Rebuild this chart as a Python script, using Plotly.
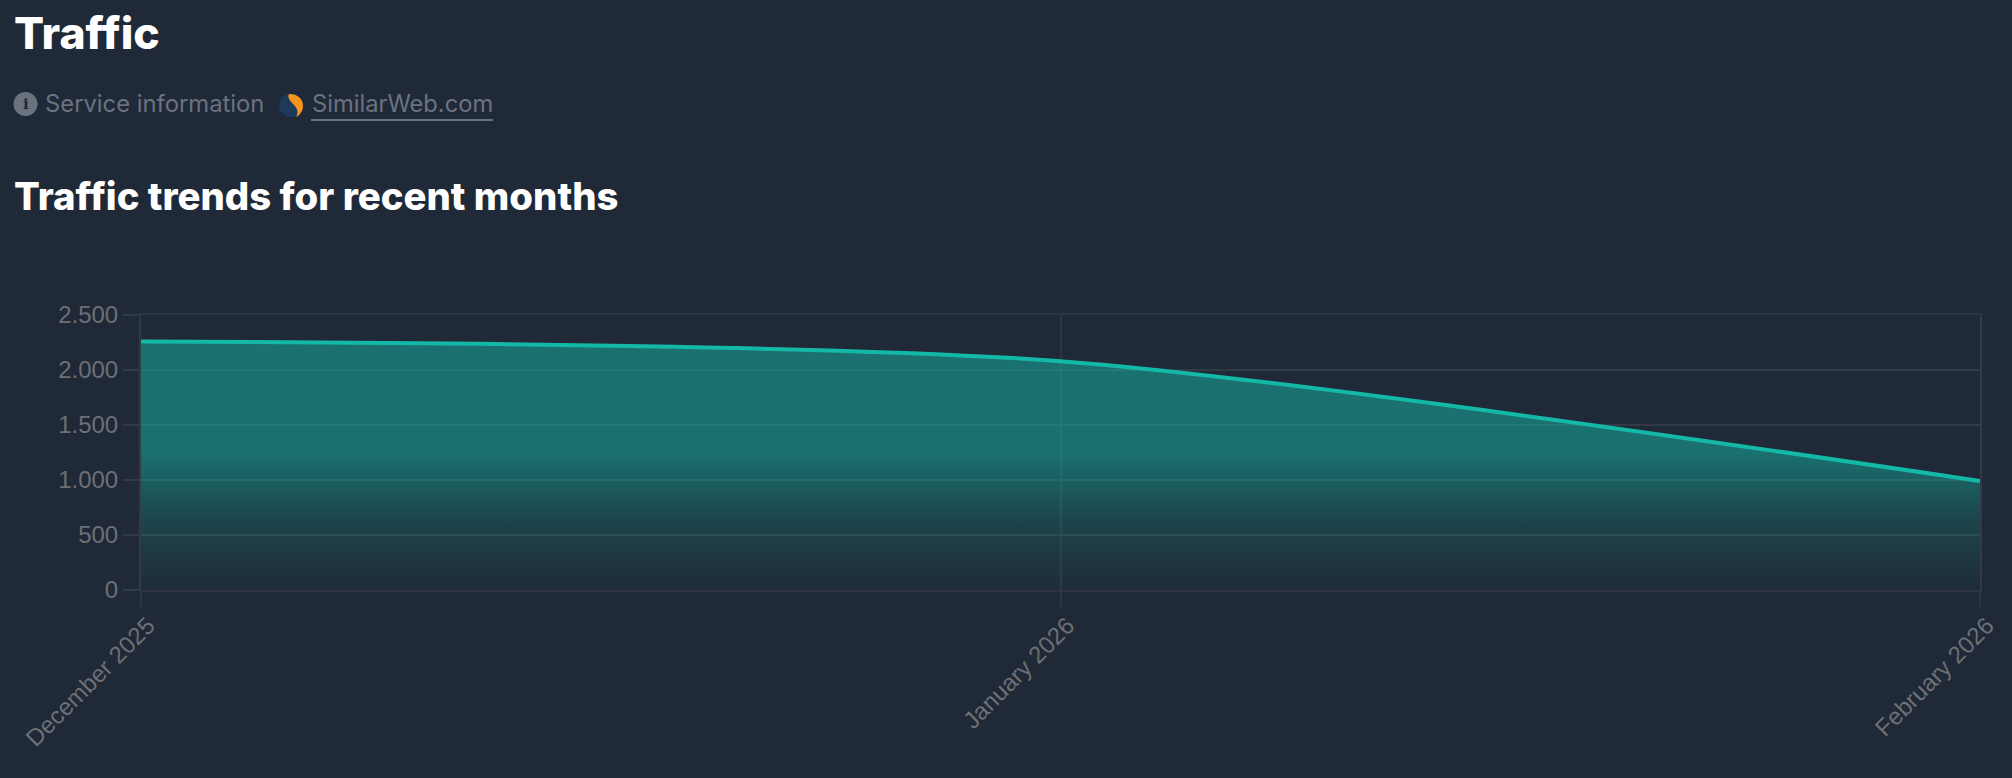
import plotly.graph_objects as go

# chart data
months = ["December 2025", "January 2026", "February 2026"]
visits = [2258, 2080, 991]
y_ticks = [0, 500, 1000, 1500, 2000, 2500]
y_tick_labels = ["0", "500", "1.000", "1.500", "2.000", "2.500"]

BG = "#1f2937"
TEAL = "#14b8a6"
GRID = "#323a47"
GRID_V = "#2d3542"
MUTED = "#6b7280"
TICK_TEXT = "#6d7075"

# plot area in page pixels
LEFT, RIGHT, TOP, BOTTOM = 141, 1980, 315, 590


def px(x):
    return (x - LEFT) / (RIGHT - LEFT)


def py(y):
    return (BOTTOM - y) / (BOTTOM - TOP)


def path(cmds):
    # cmds is a list of (letter, x, y, x, y...) in page pixels
    out = []
    for c in cmds:
        if len(c) == 1:
            out.append(c[0])
            continue
        pts = []
        for i in range(1, len(c), 2):
            pts.append(f"{px(c[i]):.5f},{py(c[i + 1]):.5f}")
        out.append(c[0] + " ".join(pts))
    return " ".join(out)


def label(text, x, y, size, color, weight=400):
    return dict(text=text, x=px(x), y=py(y), xref="paper", yref="paper",
                xanchor="left", yanchor="middle", showarrow=False,
                font=dict(family="Inter", size=size, color=color, weight=weight))


fig = go.Figure()
fig.add_trace(go.Scatter(
    x=months, y=visits, mode="lines",
    line=dict(color=TEAL, width=4, shape="spline", smoothing=0.75),
    fill="tozeroy",
    fillgradient=dict(
        type="vertical", start=2500, stop=0,
        colorscale=[
            [0.0, "rgba(20,184,166,0.5)"],
            [0.5, "rgba(20,184,166,0.5)"],
            [0.76, "rgba(20,184,166,0.18)"],
            [1.0, "rgba(20,184,166,0.02)"],
        ]),
    hoverinfo="skip",
))

fig.update_layout(
    width=2012, height=778,
    paper_bgcolor=BG, plot_bgcolor=BG,
    margin=dict(l=LEFT, r=2012 - RIGHT, t=TOP, b=778 - BOTTOM),
    showlegend=False,
    font=dict(family="Liberation Sans", size=24, color=TICK_TEXT),
    annotations=[
        label("Traffic", 11.5, 33, 44.5, "#ffffff", 800),
        label("Service information", 42.5, 104, 23.8, MUTED),
        label("SimilarWeb.com", 309.7, 104, 23.7, MUTED),
        label("Traffic trends for recent months", 11.5, 196, 38.3, "#ffffff", 800),
        dict(text="<b>i</b>", x=px(25.5), y=py(104), xref="paper", yref="paper",
             xanchor="center", yanchor="middle",
             showarrow=False, font=dict(family="DejaVu Serif", size=15, color=BG)),
    ],
    shapes=[
        dict(type="circle", xref="paper", yref="paper", x0=px(13.5), x1=px(37.5), y0=py(116), y1=py(92),
             fillcolor=MUTED, line_width=0, layer="below"),
        dict(type="line", xref="paper", yref="paper", x0=px(311), x1=px(493), y0=py(120), y1=py(120),
             line=dict(color=MUTED, width=2)),
        dict(type="circle", xref="paper", yref="paper", x0=px(279), x1=px(303), y0=py(117), y1=py(94),
             fillcolor="#1b3a5c", line_width=0),
        dict(type="path", xref="paper", yref="paper", line_width=0, fillcolor="#f7941d",
             path=path([("M", 289, 94), ("C", 299, 94, 303, 100, 303, 106),
                        ("C", 303, 111, 300, 115, 296, 117), ("C", 299, 112, 297, 108, 294, 105),
                        ("C", 290, 101, 287, 97, 289, 94), ("Z",)])),
    ],
)

fig.update_xaxes(
    type="category", range=[0, 2], tickangle=-45,
    showgrid=True, gridcolor=GRID_V, gridwidth=2, zeroline=False,
    showline=True, mirror=True, linecolor=GRID_V, linewidth=2,
    ticks="outside", ticklen=15, tickcolor=GRID_V, tickwidth=2,
    ticklabelshift=7, ticklabelstandoff=-5,
    tickfont=dict(family="Liberation Sans", size=24, color=TICK_TEXT),
)
fig.update_yaxes(
    range=[0, 2500], tickvals=y_ticks, ticktext=y_tick_labels,
    showgrid=True, gridcolor=GRID, gridwidth=2, zeroline=False,
    showline=True, mirror=True, linecolor=GRID, linewidth=2,
    ticks="outside", ticklen=16, tickcolor=GRID, tickwidth=2,
    tickfont=dict(family="Liberation Sans", size=24, color=TICK_TEXT),
)

fig.write_html(
    "out.html",
    config=dict(displayModeBar=False),
    post_script="document.body.style.margin='0';document.body.style.background='#1f2937';"
                "document.documentElement.style.overflow='hidden';",
)
